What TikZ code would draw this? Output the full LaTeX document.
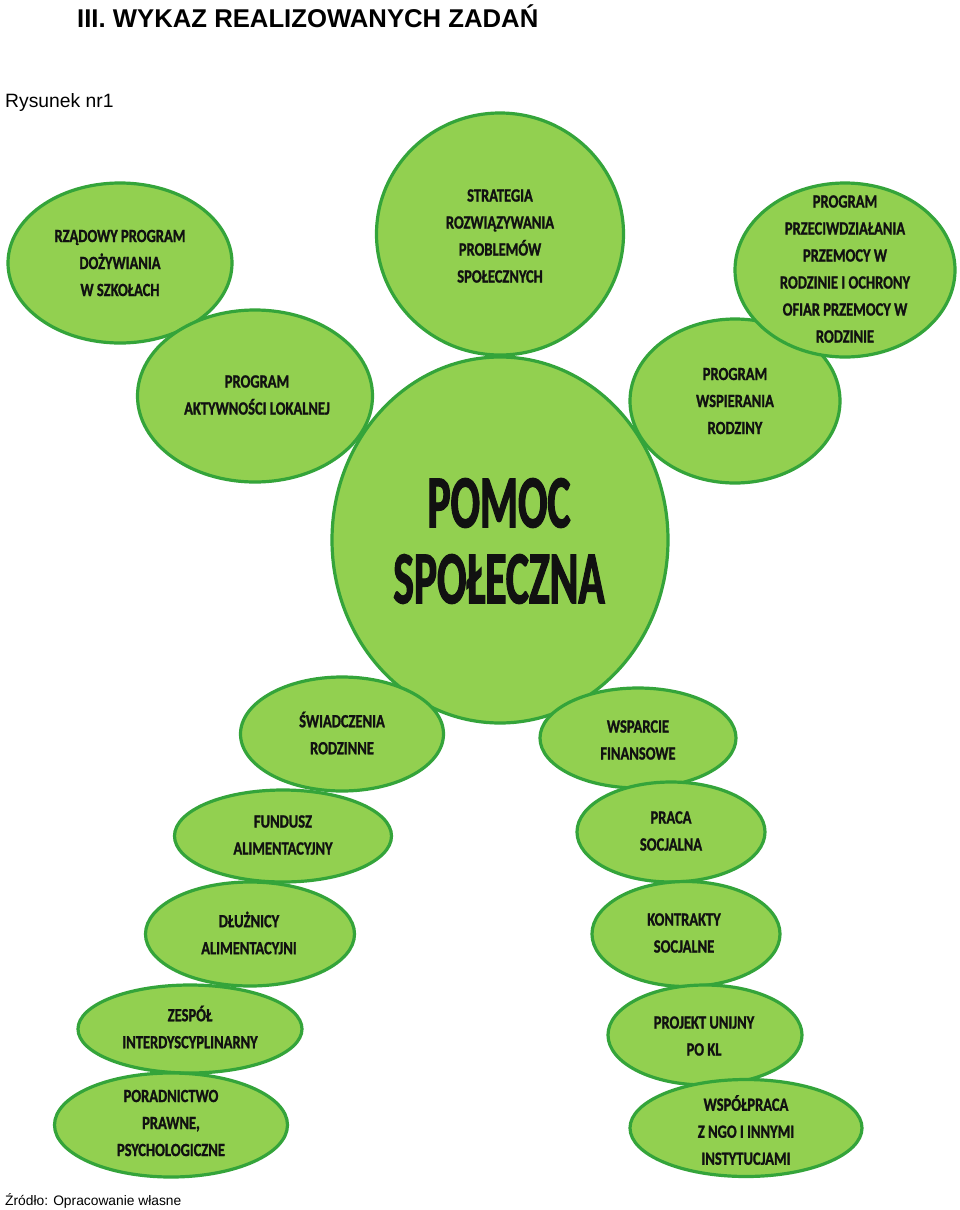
\documentclass[tikz,border=0pt]{standalone}
\usepackage{fontspec}
\setmainfont{Liberation Sans}
\newfontfamily\lab[FakeStretch=0.78,FakeBold=1.2]{Carlito}
\newfontfamily\biglab[FakeStretch=0.58,FakeBold=1.5]{Carlito}
\usetikzlibrary{shapes.geometric}
\definecolor{fillg}{HTML}{92D050}
\definecolor{edgeg}{HTML}{34A43A}
\definecolor{inkc}{HTML}{111111}
\tikzset{
  bub/.style={ellipse, draw=edgeg, line width=3.2pt, fill=fillg, inner sep=0pt},
  txt/.style={align=center, inner sep=0pt, text=inkc, font=\lab\bfseries\fontsize{18.6}{27}\selectfont},
  bigtxt/.style={align=center, inner sep=0pt, text=inkc, font=\biglab\bfseries\fontsize{75}{76}\selectfont},
  plain/.style={inner sep=0pt, anchor=base west, text=black}
}
\begin{document}
\begin{tikzpicture}[x=1pt,y=-1pt]
\useasboundingbox[fill=white] (0,0) rectangle (960,1210);
% headings
\node[plain, font=\bfseries\fontsize{25.7}{30}\selectfont] (title) at (77,27) {III. WYKAZ REALIZOWANYCH ZADAŃ};
\node[plain, font=\fontsize{19.3}{22}\selectfont] (rys) at (5,107) {Rysunek nr1};
\node[plain, font=\fontsize{13.8}{16}\selectfont] (zrodlo) at (5,1205) {Źródło: Opracowanie własne};
% upper bubbles
\node[bub, minimum width=247pt, minimum height=242pt] (strat) at (500,234) {};
\node[txt] (strat-t) at (500,236) {STRATEGIA\\ROZWIĄZYWANIA\\PROBLEMÓW\\SPOŁECZNYCH};
\node[bub, minimum width=224pt, minimum height=160pt] (rzad) at (120,263) {};
\node[txt] (rzad-t) at (120,263) {RZĄDOWY PROGRAM\\DOŻYWIANIA\\W SZKOŁACH};
\node[bub, minimum width=235pt, minimum height=172pt] (aktyw) at (255,396) {};
\node[txt] (aktyw-t) at (257,395) {PROGRAM\\AKTYWNOŚCI LOKALNEJ};
\node[bub, minimum width=210pt, minimum height=164pt] (wspier) at (735,401) {};
\node[txt] (wspier-t) at (735,401) {PROGRAM\\WSPIERANIA\\RODZINY};
\node[bub, minimum width=220pt, minimum height=174pt] (przeciw) at (845,270) {};
\node[txt] (przeciw-t) at (845,269) {PROGRAM\\PRZECIWDZIAŁANIA\\PRZEMOCY W\\RODZINIE I OCHRONY\\OFIAR PRZEMOCY W\\RODZINIE};
% central bubble
\node[bub, minimum width=336pt, minimum height=366pt] (pomoc) at (500,540) {};
\node[bigtxt] (pomoc-t) at (499,541) {POMOC\\SPOŁECZNA};
% left leg
\node[bub, minimum width=203pt, minimum height=114pt] (swiad) at (342,734) {};
\node[txt] (swiad-t) at (342,733) {ŚWIADCZENIA\\RODZINNE};
\node[bub, minimum width=217pt, minimum height=92pt] (fund) at (283,836) {};
\node[txt] (fund-t) at (283,835) {FUNDUSZ\\ALIMENTACYJNY};
\node[bub, minimum width=209pt, minimum height=104pt] (dluz) at (250,934) {};
\node[txt] (dluz-t) at (249,933) {DŁUŻNICY\\ALIMENTACYJNI};
\node[bub, minimum width=224pt, minimum height=88pt] (zesp) at (190,1029) {};
\node[txt] (zesp-t) at (190,1027) {ZESPÓŁ\\INTERDYSCYPLINARNY};
\node[bub, minimum width=233pt, minimum height=104pt] (porad) at (171,1125) {};
\node[txt] (porad-t) at (171,1123) {PORADNICTWO\\PRAWNE,\\PSYCHOLOGICZNE};
% right leg
\node[bub, minimum width=196pt, minimum height=100pt] (wspar) at (638,738) {};
\node[txt] (wspar-t) at (638,740) {WSPARCIE\\FINANSOWE};
\node[bub, minimum width=188pt, minimum height=100pt] (praca) at (671,832) {};
\node[txt] (praca-t) at (671,831) {PRACA\\SOCJALNA};
\node[bub, minimum width=188pt, minimum height=105pt] (kontr) at (686,934) {};
\node[txt] (kontr-t) at (684,933) {KONTRAKTY\\SOCJALNE};
\node[bub, minimum width=194pt, minimum height=100pt] (proj) at (705,1035) {};
\node[txt] (proj-t) at (704,1036) {PROJEKT UNIJNY\\PO KL};
\node[bub, minimum width=232pt, minimum height=97pt] (wspol) at (746,1128) {};
\node[txt] (wspol-t) at (746,1130) {WSPÓŁPRACA\\Z NGO I INNYMI\\INSTYTUCJAMI};
\end{tikzpicture}
\end{document}
